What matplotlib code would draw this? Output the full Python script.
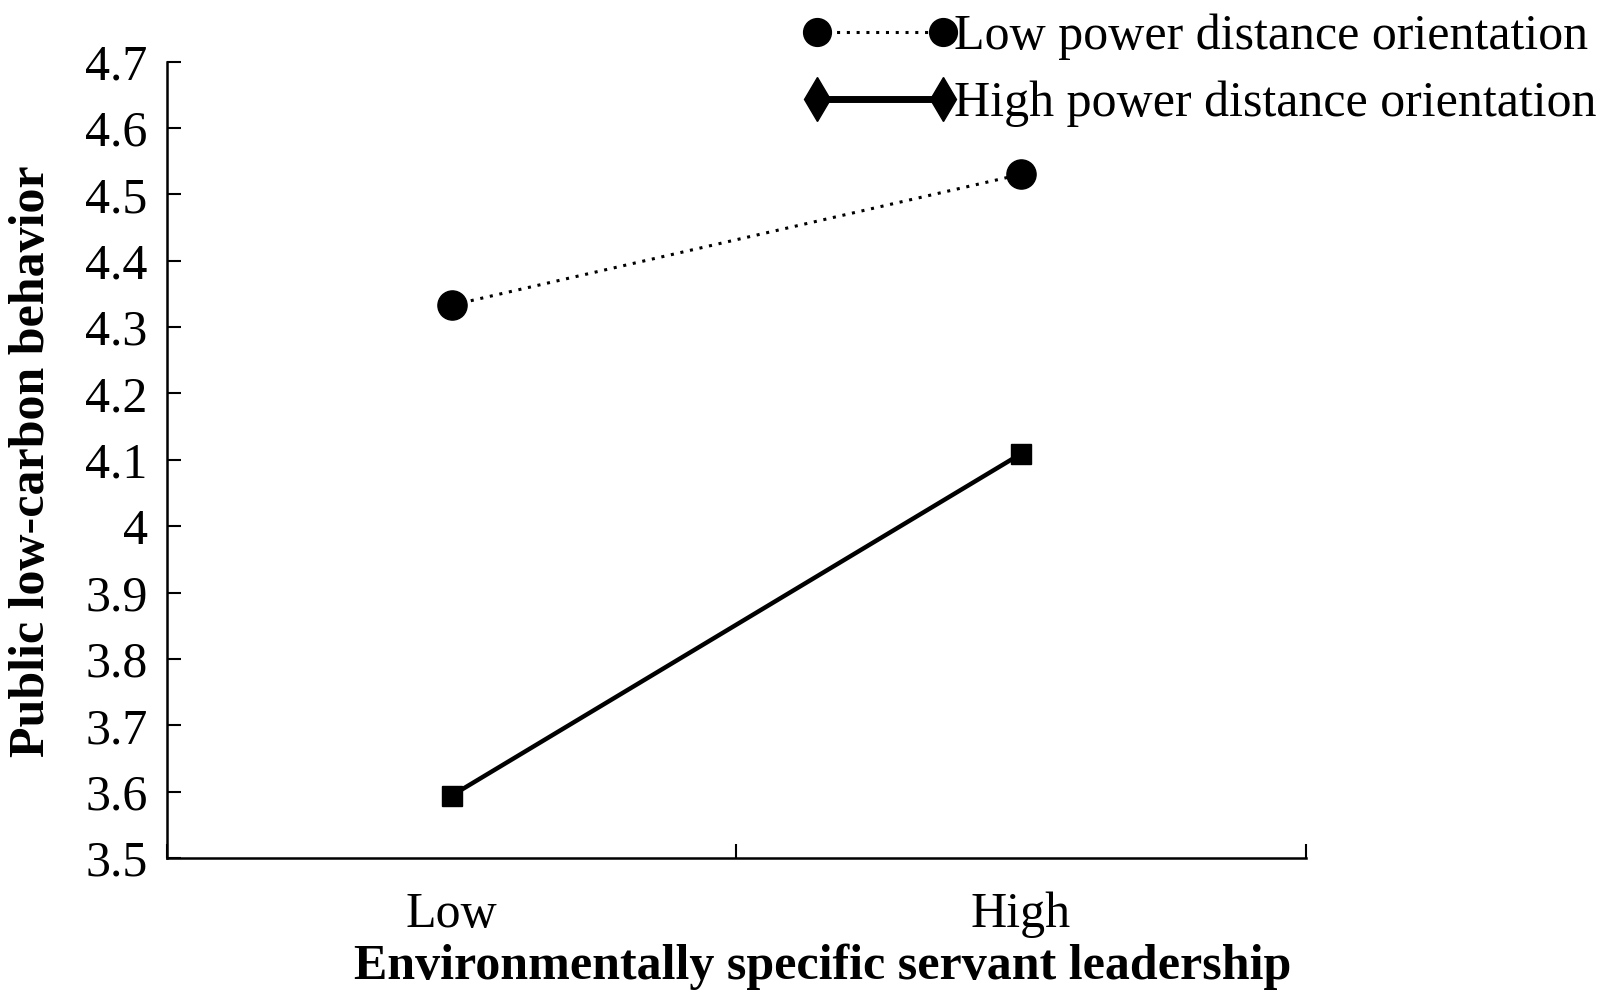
import matplotlib
matplotlib.use("Agg")
import matplotlib.pyplot as plt
from matplotlib.lines import Line2D

# data
categories = ["Low", "High"]
low_pdo = [4.333, 4.530]
high_pdo = [3.594, 4.109]
series_names = ["Low power distance orientation", "High power distance orientation"]
yticks = [3.5, 3.6, 3.7, 3.8, 3.9, 4.0, 4.1, 4.2, 4.3, 4.4, 4.5, 4.6, 4.7]
ytick_labels = ["3.5", "3.6", "3.7", "3.8", "3.9", "4", "4.1", "4.2", "4.3", "4.4", "4.5", "4.6", "4.7"]

plt.rcParams["font.family"] = "Liberation Serif"

fig = plt.figure(figsize=(16.06, 10), dpi=100)
ax = fig.add_axes([0.104, 0.142, 0.709, 0.7965])

dotted = (0, (1, 2.2))
xpos = [0.5, 1.5]
ax.plot(xpos, low_pdo, color="black", linestyle=dotted, linewidth=2.2,
        marker="o", markersize=21)
ax.plot(xpos, high_pdo, color="black", linestyle="-", linewidth=3.2,
        marker="s", markersize=15)

ax.set_xlim(0, 2)
ax.set_ylim(3.5, 4.7)
ax.set_yticks(yticks)
ax.set_yticklabels(ytick_labels, fontsize=36)
ax.set_xticks([0, 1, 2])
ax.set_xticklabels([])
ax.set_xticks(xpos, minor=True)
ax.set_xticklabels(categories, minor=True, fontsize=36)
ax.tick_params(axis="x", which="minor", length=0, pad=24)
ax.tick_params(axis="both", which="major", direction="in", length=10, width=1.5)
ax.tick_params(axis="y", pad=14)

for side in ["top", "right"]:
    ax.spines[side].set_visible(False)
ax.spines["left"].set_linewidth(1.8)
ax.spines["bottom"].set_linewidth(1.8)

fig.text(0.512, 0.010, "Environmentally specific servant leadership",
         fontsize=36, fontweight="bold", ha="center", va="bottom")
fig.text(0.020, 0.539, "Public low-carbon behavior", fontsize=36,
         fontweight="bold", rotation=90, ha="center", va="center")

handles = [
    Line2D([], [], color="black", linestyle=dotted, linewidth=2.2,
           marker="o", markersize=20),
    Line2D([], [], color="black", linestyle="-", linewidth=5,
           marker="d", markersize=22),
]
leg = fig.legend(handles, series_names, loc="upper left",
                 bbox_to_anchor=(0.487, 1.006), numpoints=2, frameon=False,
                 fontsize=36, handlelength=3.11, handletextpad=-0.07,
                 labelspacing=0.4, borderaxespad=0)

fig.savefig("out.png", dpi=100)
